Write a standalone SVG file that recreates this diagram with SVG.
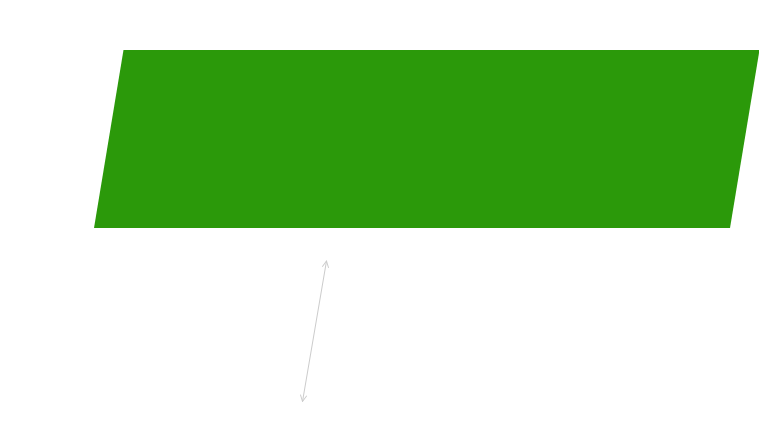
<svg xmlns="http://www.w3.org/2000/svg" width="759" height="431" viewBox="0 0 759 431">
<style>
.shape{fill:#2b990a;stroke:none}
.conn{fill:none;stroke:#cccccc;stroke-width:1}
</style>
<defs>
<marker id="open" viewBox="0 0 10 10" refX="9" refY="5" markerWidth="8" markerHeight="8" markerUnits="userSpaceOnUse" orient="auto-start-reverse">
<path d="M1,1 L9,5 L1,9" fill="none" stroke="#cccccc" stroke-width="1.2"/>
</marker>
</defs>
<rect width="759" height="431" fill="#ffffff"/>
<g id="node-parallelogram">
<polygon class="shape" points="123.5,50 759.5,50 730,228 94,228"/>
</g>
<g id="connectors">
<line class="conn" x1="326.5" y1="261" x2="302.5" y2="401.5" marker-start="url(#open)" marker-end="url(#open)"/>
</g>
</svg>
